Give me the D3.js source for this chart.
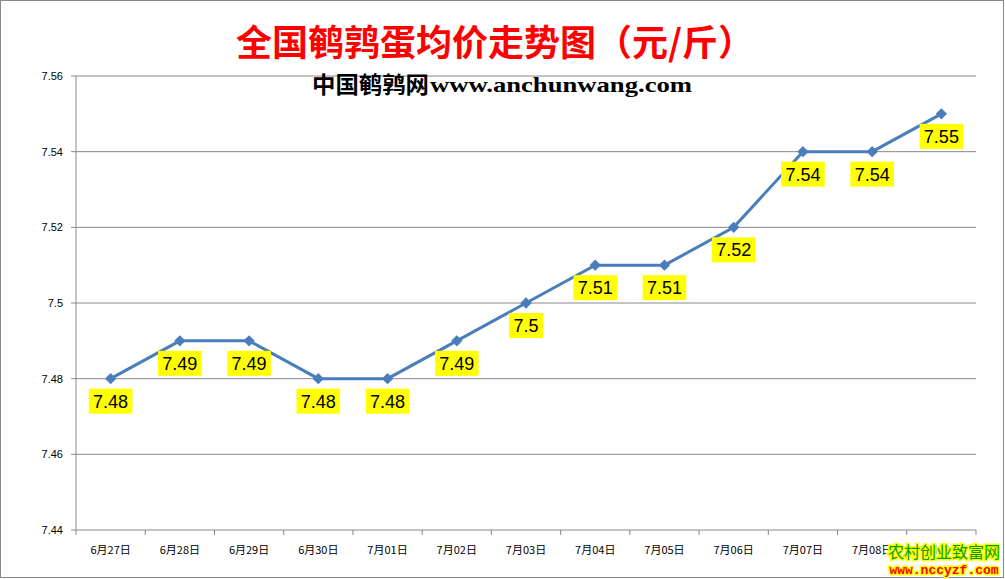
<!DOCTYPE html><html><head><meta charset="utf-8">
<script src="https://cdn.jsdelivr.net/npm/d3@7"></script>
<style>body{margin:0;background:#fff}svg{display:block}</style></head><body>
<svg id="c" width="1005" height="579"></svg>
<script>
const categories=["6月27日","6月28日","6月29日","6月30日","7月01日","7月02日","7月03日","7月04日","7月05日","7月06日","7月07日","7月08日","7月09日"];
const values=[7.48,7.49,7.49,7.48,7.48,7.49,7.5,7.51,7.51,7.52,7.54,7.54,7.55];
const yTicks=[7.44,7.46,7.48,7.5,7.52,7.54,7.56];
const svg=d3.select("#c");
svg.append("rect").attr("x",0.5).attr("y",0.5).attr("width",1003).attr("height",577).attr("fill","#fff").attr("stroke","#888");
const L=76,R=976,T=76,B=530;
const x=d3.scaleBand().domain(categories).range([L,R]);
const y=d3.scaleLinear().domain([7.44,7.56]).range([B,T]);
const g=svg.append("g");
yTicks.forEach(t=>{
 g.append("line").attr("x1",L-5).attr("x2",R).attr("y1",y(t)).attr("y2",y(t)).attr("stroke","#888");
 g.append("text").attr("x",L-13).attr("y",y(t)+4).attr("text-anchor","end").attr("font-family","Liberation Sans, Arial").attr("font-size",11).text(t);
});
g.append("line").attr("x1",L).attr("x2",L).attr("y1",T).attr("y2",B+5).attr("stroke","#888");
categories.forEach((c,i)=>{
 const bx=x(c)+x.bandwidth();
 g.append("line").attr("x1",bx).attr("x2",bx).attr("y1",B).attr("y2",B+5).attr("stroke","#888");
 g.append("text").attr("x",x(c)+x.bandwidth()/2).attr("y",B+24).attr("text-anchor","middle").attr("font-family","Noto Sans CJK SC, sans-serif").attr("font-size",11).text(c);
});
const cx=(d,i)=>x(categories[i])+x.bandwidth()/2;
g.append("path").datum(values).attr("fill","none").attr("stroke","#4a7ebb").attr("stroke-width",3)
 .attr("d",d3.line().x(cx).y(d=>y(d)));
values.forEach((v,i)=>{
 g.append("rect").attr("x",cx(v,i)-4).attr("y",y(v)-4).attr("width",8).attr("height",8).attr("fill","#4a7ebb").attr("transform",`rotate(45 ${cx(v,i)} ${y(v)})`);
 const t=String(v), w=t.length*9.4+6;
 g.append("rect").attr("x",cx(v,i)-w/2).attr("y",y(v)+10).attr("width",w).attr("height",25).attr("fill","#ffff00");
 g.append("text").attr("x",cx(v,i)).attr("y",y(v)+29).attr("text-anchor","middle").attr("font-family","Liberation Sans, Arial").attr("font-size",18).text(t);
});
svg.append("text").attr("x",495).attr("y",56).attr("text-anchor","middle").attr("fill","#ff0000").attr("font-weight","bold").attr("font-size",36).attr("font-family","Noto Sans CJK SC").text("全国鹌鹑蛋均价走势图（元/斤）");
svg.append("text").attr("x",312).attr("y",93).attr("fill","#000").attr("font-weight","bold").attr("font-size",23).attr("font-family","Noto Sans CJK SC").attr("textLength",117).attr("lengthAdjust","spacingAndGlyphs").text("中国鹌鹑网");
svg.append("text").attr("x",430).attr("y",92).attr("fill","#000").attr("font-weight","bold").attr("font-size",21).attr("font-family","Liberation Serif").attr("textLength",262).attr("lengthAdjust","spacingAndGlyphs").text("www.anchunwang.com");
const wm=svg.append("g");
wm.append("text").attr("x",944).attr("y",558).attr("text-anchor","middle").attr("fill","#00a000").attr("stroke","#ffff00").attr("stroke-width",3).attr("paint-order","stroke").attr("font-size",16).attr("font-family","Noto Sans CJK SC").text("农村创业致富网");
wm.append("text").attr("x",944).attr("y",574).attr("text-anchor","middle").attr("fill","#ff0000").attr("stroke","#ffff00").attr("stroke-width",3).attr("paint-order","stroke").attr("font-weight","bold").attr("font-size",13).attr("font-family","Liberation Mono").text("www.nccyzf.com");
</script></body></html>
